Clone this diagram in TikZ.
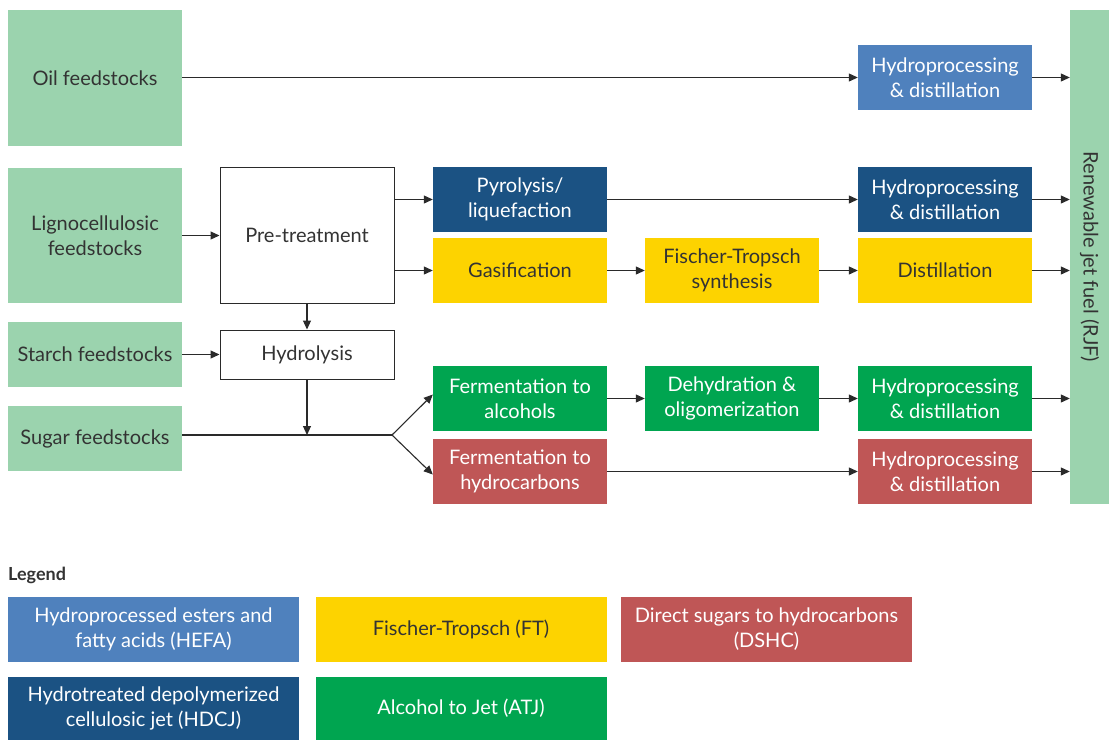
\documentclass[tikz,border=0pt]{standalone}
\usepackage{fontspec}
\setmainfont{Lato}
\usetikzlibrary{arrows.meta}
\definecolor{feed}{HTML}{9BD3AE}
\definecolor{hefa}{HTML}{4F81BD}
\definecolor{hdcj}{HTML}{1B5283}
\definecolor{ftc}{HTML}{FDD300}
\definecolor{atj}{HTML}{00A550}
\definecolor{dshc}{HTML}{BF5656}
\definecolor{txt}{HTML}{333333}
\definecolor{ln}{HTML}{2A2A2A}
\tikzset{
  base/.style={rectangle, inner sep=0pt, align=center, font=\fontsize{20}{25}\selectfont},
  box/.style={base, minimum width=174pt, minimum height=65pt},
  feedbox/.style={base, fill=feed, text=txt, minimum width=174pt},
  wbox/.style={base, draw=ln, line width=1pt, fill=white, text=txt, minimum width=174pt},
  lbox/.style={base, minimum width=291pt, minimum height=65pt},
  wt/.style={text=white},
  dk/.style={text=txt},
  conn/.style={draw=ln, line width=1.1pt},
  arr/.style={conn, -{Triangle[length=9pt,width=8pt]}}
}
\begin{document}
\begin{tikzpicture}[x=1pt,y=-1pt]
\useasboundingbox (0,0) rectangle (1109,740);
% feedstocks
\node[feedbox, minimum height=136pt] (oil) at (95,78) {Oil feedstocks};
\node[feedbox, minimum height=135pt] (lig) at (95,235.5) {Lignocellulosic\\feedstocks};
\node[feedbox, minimum height=65pt] (sta) at (95,354.5) {Starch feedstocks};
\node[feedbox, minimum height=65pt] (sug) at (95,438.5) {Sugar feedstocks};
% white boxes
\node[wbox, minimum height=136pt] (pre) at (307,235) {Pre-treatment};
\node[wbox, minimum height=49pt] (hyd) at (307,354.5) {Hydrolysis};
% process boxes
\node[box, fill=hefa, wt] (hp1) at (945,77.5) {Hydroprocessing\\\& distillation};
\node[box, fill=hdcj, wt] (pyr) at (520,199.5) {Pyrolysis/\\liquefaction};
\node[box, fill=hdcj, wt] (hp2) at (945,199.5) {Hydroprocessing\\\& distillation};
\node[box, fill=ftc, dk] (gas) at (520,270.5) {Gasification};
\node[box, fill=ftc, dk] (fts) at (732,270.5) {Fischer-Tropsch\\synthesis};
\node[box, fill=ftc, dk] (dis) at (945,270.5) {Distillation};
\node[box, fill=atj, wt] (fal) at (520,398.5) {Fermentation to\\alcohols};
\node[box, fill=atj, wt] (deh) at (732,398.5) {Dehydration \&\\oligomerization};
\node[box, fill=atj, wt] (hp3) at (945,398.5) {Hydroprocessing\\\& distillation};
\node[box, fill=dshc, wt] (fhc) at (520,471.5) {Fermentation to\\hydrocarbons};
\node[box, fill=dshc, wt] (hp4) at (945,471.5) {Hydroprocessing\\\& distillation};
% RJF
\node[base, fill=feed, minimum width=39pt, minimum height=494pt] (rjf) at (1089.5,257) {};
\node[base, text=txt, rotate=-90] (rjft) at (rjf.center) {Renewable jet fuel (RJF)};
% connectors
\draw[arr] (oil.east |- hp1.west) -- (hp1.west);
\draw[arr] (hp1.east) -- (hp1.east -| rjf.west);
\draw[arr] (lig.east) -- (lig.east -| pre.west);
\draw[arr] (pre.east |- pyr.west) -- (pyr.west);
\draw[arr] (pyr.east) -- (hp2.west);
\draw[arr] (hp2.east) -- (hp2.east -| rjf.west);
\draw[arr] (pre.east |- gas.west) -- (gas.west);
\draw[arr] (gas.east) -- (fts.west);
\draw[arr] (fts.east) -- (dis.west);
\draw[arr] (dis.east) -- (dis.east -| rjf.west);
\draw[arr] (pre.south) -- (hyd.north);
\draw[arr] (sta.east) -- (hyd.west);
\coordinate (br) at (392,435);
\draw[conn] (sug.east |- br) -- (br);
\draw[arr] (hyd.south) -- (hyd.south |- br);
\draw[arr] (br) -- ([yshift=4pt]fal.west);
\draw[arr] (br) -- ([yshift=-3pt]fhc.west);
\draw[arr] (fal.east) -- (deh.west);
\draw[arr] (deh.east) -- (hp3.west);
\draw[arr] (hp3.east) -- (hp3.east -| rjf.west);
\draw[arr] (fhc.east) -- (hp4.west);
\draw[arr] (hp4.east) -- (hp4.east -| rjf.west);
% legend
\node[anchor=west, inner sep=0pt, text=txt, font=\fontsize{18}{20}\selectfont\bfseries] (leg) at (8,575) {Legend};
\node[lbox, fill=hefa, wt] (l1) at (153.5,629.5) {Hydroprocessed esters and\\fatty acids (HEFA)};
\node[lbox, fill=ftc, dk] (l2) at (461,629.5) {Fischer-Tropsch (FT)};
\node[lbox, fill=dshc, wt] (l3) at (766.5,629.5) {Direct sugars to hydrocarbons\\(DSHC)};
\node[lbox, fill=hdcj, wt, minimum height=63pt] (l4) at (153.5,708.5) {Hydrotreated depolymerized\\cellulosic jet (HDCJ)};
\node[lbox, fill=atj, wt, minimum height=63pt] (l5) at (461,708.5) {Alcohol to Jet (ATJ)};
\end{tikzpicture}
\end{document}
